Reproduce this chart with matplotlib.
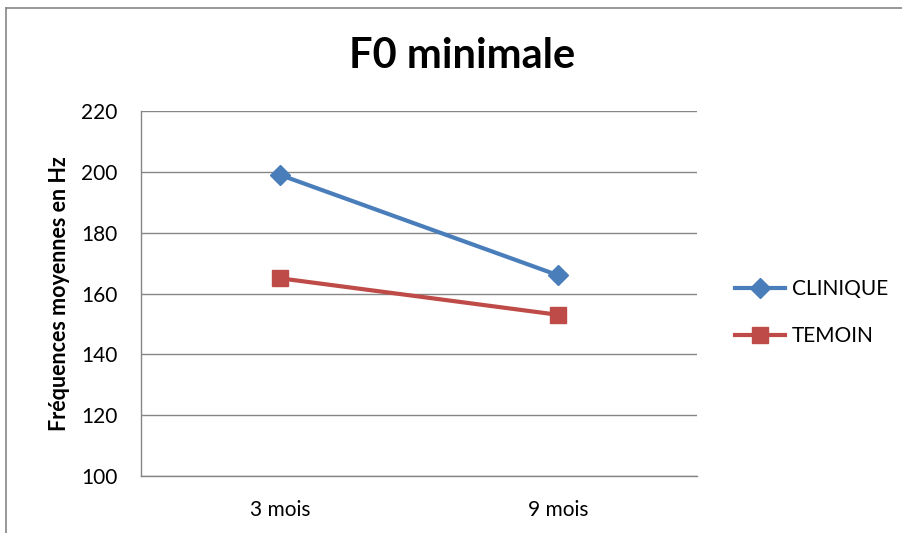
import matplotlib.pyplot as plt
from matplotlib.lines import Line2D

categories = ["3 mois", "9 mois"]
clinique = [199, 166]
temoin = [165, 153]
y_ticks = [100, 120, 140, 160, 180, 200, 220]

plt.rcParams['font.family'] = ['Lato', 'DejaVu Sans']

fig = plt.figure(figsize=(9.03, 5.33), dpi=100)
ax = fig.add_axes([141 / 903, 1 - 476 / 533, 556 / 903, 365 / 533])

# outer chart frame: only left and top edges show in the crop
fx, fy = 5.5 / 903, 1 - 7.5 / 533
fig.lines.append(Line2D([fx, fx], [0, fy], transform=fig.transFigure,
                        color='#868686', linewidth=1.2))
fig.lines.append(Line2D([fx, 1], [fy, fy], transform=fig.transFigure,
                        color='#868686', linewidth=1.2))

x = range(len(categories))
ax.plot(x, clinique, color='#4A7EBB', linewidth=3, marker='D',
        markersize=10, label='CLINIQUE')
ax.plot(x, temoin, color='#BE4B48', linewidth=3, marker='s',
        markersize=11, label='TEMOIN')

ax.set_xlim(-0.5, 1.5)
ax.set_ylim(100, 220)
ax.set_yticks(y_ticks)
ax.set_xticks(list(x))
ax.set_xticklabels(categories)
ax.tick_params(length=0, labelsize=15)
ax.tick_params(axis='x', pad=17)
ax.tick_params(axis='y', pad=17)
ax.grid(axis='y', color='#868686', linewidth=1)
ax.set_axisbelow(True)
for s in ['top', 'right']:
    ax.spines[s].set_visible(False)
for s in ['left', 'bottom']:
    ax.spines[s].set_color('#868686')
    ax.spines[s].set_linewidth(1)

ax.set_ylabel('Fréquences moyennes en Hz', fontsize=15.5, fontweight='bold',
              labelpad=8)
fig.text(462 / 903, 1 - 56 / 533, 'F0 minimale', fontsize=30,
         fontweight='bold', ha='center', va='center')

ax.legend(loc='center left', bbox_to_anchor=(1.068, 0.447), frameon=False,
          fontsize=15, handlelength=2.4, handletextpad=0.35,
          labelspacing=1.3, borderpad=0, borderaxespad=0)

fig.savefig('out.png', dpi=100)
